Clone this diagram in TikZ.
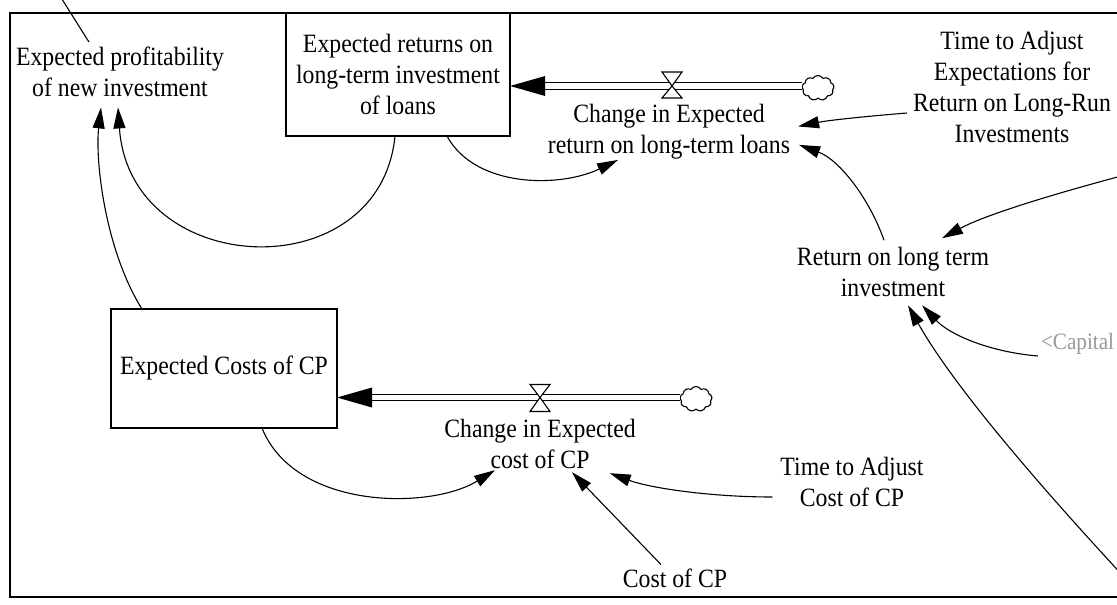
\documentclass[tikz,border=0pt]{standalone}
\usepackage{fontspec}
\setmainfont{Liberation Serif}[FakeStretch=0.9]
\usetikzlibrary{arrows.meta,shapes.symbols}
\tikzset{
  lbl/.style={font=\fontsize{26.4}{31}\selectfont, align=center, inner sep=1pt, outer sep=0pt},
  stock/.style={lbl, draw, line width=1.2pt},
  infl/.style={line width=1.1pt, -{Triangle[length=21pt,width=12pt]}},
  pipe/.style={double, double distance=5.5pt, line width=1.1pt},
  valvetri/.style={draw, fill=white, line width=1.1pt},
  src/.style={cloud, draw, cloud puffs=9, cloud puff arc=120, cloud ignores aspect, minimum width=32pt, minimum height=25pt, inner sep=0pt, line width=1.1pt}
}
\begin{document}
\begin{tikzpicture}[x=1pt,y=-1pt]
\useasboundingbox (0,0) rectangle (1117,605);
\clip (0,0) rectangle (1117,605);
\fill[white] (0,0) rectangle (1117,605);
\draw[line width=1.2pt] (10,13) rectangle (1140,597);

% nodes
\node[lbl] (prof) at (120,72) {Expected profitability\\of new investment};
\node[stock, minimum width=224pt, minimum height=123pt] (box1) at (398,74.5) {Expected returns on\\long-term investment\\of loans};
\node[lbl] (chg1) at (669,131.4) {Change in Expected\\return on long-term loans};
\node[lbl] (tadj1) at (1012,87) {Time to Adjust\\Expectations for\\Return on Long-Run\\Investments};
\node[lbl] (rlt) at (893,272) {Return on long term\\investment};
\node[lbl, font=\fontsize{23.5}{28}\selectfont, text=black!40, anchor=west] (cap) at (1040,344) {<Capital};
\node[stock, minimum width=226pt, minimum height=119pt] (box2) at (224,368.5) {Expected Costs of CP};
\node[lbl] (chg2) at (540,444.4) {Change in Expected\\cost of CP};
\node[lbl] (tadj2) at (852,482) {Time to Adjust\\Cost of CP};
\node[lbl] (cost) at (675,578) {Cost of CP};
\node[src] (cl1) at (818,88) {};
\node[src] (cl2) at (696,399) {};
\coordinate (offtop) at (60,-4);
\coordinate (offr1) at (1125,175);
\coordinate (offr2) at (1125,578);

% flow 1
\coordinate (v1) at (672,86);
\path (box1.east |- v1) coordinate (h1);
\draw[pipe] (cl1.west |- v1) -- ([xshift=33pt]h1);
\fill (h1) -- ([xshift=35pt,yshift=10pt]h1) -- ([xshift=35pt,yshift=-10pt]h1) -- cycle;
\draw[valvetri] (v1) -- ++(-10,-14) -- ++(20,0) -- cycle;
\draw[valvetri] (v1) -- ++(-10,12) -- ++(20,0) -- cycle;

% flow 2
\coordinate (v2) at (540,397.5);
\path (box2.east |- v2) coordinate (h2);
\draw[pipe] (cl2.west |- v2) -- ([xshift=33pt]h2);
\fill (h2) -- ([xshift=35pt,yshift=10pt]h2) -- ([xshift=35pt,yshift=-10pt]h2) -- cycle;
\draw[valvetri] (v2) -- ++(-10,-13) -- ++(20,0) -- cycle;
\draw[valvetri] (v2) -- ++(-10,14) -- ++(20,0) -- cycle;

% influences
\draw[line width=1.1pt] ([xshift=-31pt,yshift=4pt]prof.north) -- (offtop);
\draw[infl] ([xshift=-3pt]box1.south) .. controls (380,290) and (130,280) .. ([xshift=-2pt,yshift=-9.5pt]prof.south);
\draw[infl] ([xshift=-82pt]box2.north) .. controls (105,250) and (95,160) .. ([xshift=-19pt,yshift=-9.5pt]prof.south);
\draw[infl] ([xshift=49pt]box1.south) .. controls (475,188) and (560,188) .. ([xshift=-51pt]chg1.south);
\draw[infl] ([xshift=-5pt,yshift=-26pt]tadj1.west) .. controls (870,116) and (830,120) .. ([xshift=7pt,yshift=5pt]chg1.east);
\draw[infl] ([xshift=-9pt,yshift=6pt]rlt.north) .. controls (870,200) and (840,160) .. ([xshift=8pt,yshift=15pt]chg1.south east);
\draw[infl] (offr1) .. controls (1050,195) and (985,215) .. ([xshift=49pt,yshift=8pt]rlt.north);
\draw[infl] ([xshift=-2pt,yshift=-12pt]cap.west) .. controls (990,352) and (950,335) .. ([xshift=29pt,yshift=-7.5pt]rlt.south);
\draw[infl] (offr2) .. controls (1025,470) and (950,380) .. ([xshift=15pt,yshift=-7.5pt]rlt.south);
\draw[infl] ([xshift=38pt]box2.south) .. controls (295,510) and (430,510) .. ([xshift=-45pt]chg2.south);
\draw[infl] ([xshift=-7pt,yshift=-15pt]tadj2.west) .. controls (710,497) and (650,488) .. ([xshift=-27pt,yshift=-3pt]chg2.south east);
\draw[infl] ([xshift=-14pt,yshift=3pt]cost.north) -- ([xshift=32pt,yshift=-2pt]chg2.south);
\end{tikzpicture}
\end{document}
